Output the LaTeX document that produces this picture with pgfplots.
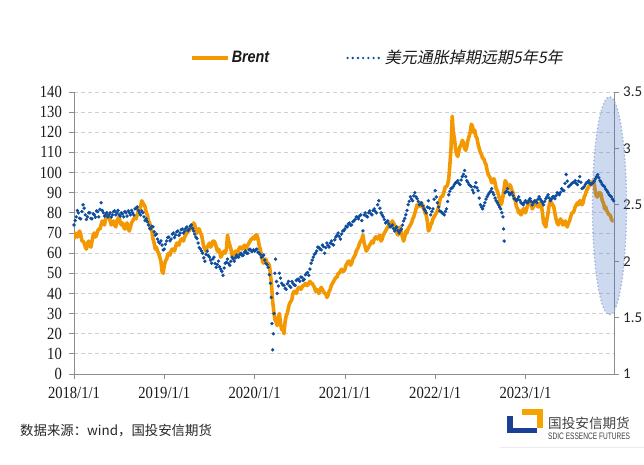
\documentclass[border=0pt]{standalone}
\usepackage{pgfplots}
\pgfplotsset{compat=1.18}
\usepackage{pgfplotstable}
\usepackage{fontspec}
\setmainfont{Liberation Serif}
\newfontfamily\tickfont[FakeStretch=0.86]{Liberation Serif}
\newfontfamily\rtickfont{Carlito}
\newfontfamily\legfont[FakeStretch=0.87]{Liberation Sans}
\newfontfamily\cjkit[FakeSlant=0.2]{Noto Sans CJK SC}
\newfontfamily\cjk{Noto Sans CJK SC}
\newfontfamily\logofont[FakeStretch=0.7]{Liberation Sans}
\definecolor{brentc}{HTML}{F39800}
\definecolor{swapc}{HTML}{0E4D9E}
\definecolor{gridc}{HTML}{D0D0D0}
\definecolor{axisc}{HTML}{8C8C8C}
\definecolor{ellc}{HTML}{4472C4}
\definecolor{ellb}{HTML}{9BB4DB}
\definecolor{logob}{HTML}{1B3F94}
\definecolor{logoo}{HTML}{F5A300}

\pgfplotstableread{
x y
2018.0000 67
2018.0125 70
2018.0250 69
2018.0375 68
2018.0500 70
2018.0625 71
2018.0750 69
2018.0875 66
2018.1000 66
2018.1125 65
2018.1250 63
2018.1375 62
2018.1500 65
2018.1625 66
2018.1750 64
2018.1875 63
2018.2000 66
2018.2125 69
2018.2250 70
2018.2375 68
2018.2500 69
2018.2625 71
2018.2750 72
2018.2875 72
2018.3000 74
2018.3125 76
2018.3250 75
2018.3375 74
2018.3500 77
2018.3625 79
2018.3750 79
2018.3875 78
2018.4000 76
2018.4125 74
2018.4250 75
2018.4375 76
2018.4500 74
2018.4625 73
2018.4750 76
2018.4875 77
2018.5000 78
2018.5125 75
2018.5250 74
2018.5375 75
2018.5500 73
2018.5625 72
2018.5750 74
2018.5875 75
2018.6000 72
2018.6125 71
2018.6250 73
2018.6375 75
2018.6500 76
2018.6625 77
2018.6750 78
2018.6875 77
2018.7000 79
2018.7125 81
2018.7250 82
2018.7375 83
2018.7500 86
2018.7625 85
2018.7750 84
2018.7875 83
2018.8000 80
2018.8125 79
2018.8250 76
2018.8375 75
2018.8500 72
2018.8625 71
2018.8750 67
2018.8875 65
2018.9000 62
2018.9125 63
2018.9250 61
2018.9375 60
2018.9500 58
2018.9625 56
2018.9750 51
2018.9875 50
2019.0000 54
2019.0125 56
2019.0250 57
2019.0375 59
2019.0500 60
2019.0625 59
2019.0750 61
2019.0875 62
2019.1000 62
2019.1125 61
2019.1250 63
2019.1375 65
2019.1500 65
2019.1625 64
2019.1750 66
2019.1875 67
2019.2000 67
2019.2125 66
2019.2250 68
2019.2375 69
2019.2500 70
2019.2625 71
2019.2750 71
2019.2875 72
2019.3000 74
2019.3125 73
2019.3250 75
2019.3375 74
2019.3500 71
2019.3625 70
2019.3750 72
2019.3875 72
2019.4000 70
2019.4125 69
2019.4250 66
2019.4375 63
2019.4500 62
2019.4625 61
2019.4750 63
2019.4875 64
2019.5000 65
2019.5125 63
2019.5250 64
2019.5375 66
2019.5500 66
2019.5625 65
2019.5750 63
2019.5875 61
2019.6000 62
2019.6125 61
2019.6250 58
2019.6375 59
2019.6500 60
2019.6625 61
2019.6750 60
2019.6875 62
2019.7000 69
2019.7125 66
2019.7250 64
2019.7375 62
2019.7500 59
2019.7625 58
2019.7750 60
2019.7875 61
2019.8000 61
2019.8125 60
2019.8250 62
2019.8375 63
2019.8500 63
2019.8625 62
2019.8750 63
2019.8875 64
2019.9000 62
2019.9125 63
2019.9250 64
2019.9375 65
2019.9500 66
2019.9625 67
2019.9750 67
2019.9875 68
2020.0000 67
2020.0125 69
2020.0250 69
2020.0375 67
2020.0500 64
2020.0625 62
2020.0750 59
2020.0875 56
2020.1000 55
2020.1125 57
2020.1250 57
2020.1375 55
2020.1500 55
2020.1625 54
2020.1750 50
2020.1875 44
2020.2000 36
2020.2125 31
2020.2250 27
2020.2375 26
2020.2500 24
2020.2625 28
2020.2750 30
2020.2875 25
2020.3000 22
2020.3125 23
2020.3250 20
2020.3375 26
2020.3500 29
2020.3625 30
2020.3750 33
2020.3875 35
2020.4000 36
2020.4125 37
2020.4250 40
2020.4375 41
2020.4500 41
2020.4625 40
2020.4750 42
2020.4875 43
2020.5000 43
2020.5125 42
2020.5250 43
2020.5375 44
2020.5500 44
2020.5625 45
2020.5750 44
2020.5875 44
2020.6000 45
2020.6125 46
2020.6250 45
2020.6375 45
2020.6500 44
2020.6625 43
2020.6750 41
2020.6875 42
2020.7000 41
2020.7125 40
2020.7250 42
2020.7375 43
2020.7500 42
2020.7625 41
2020.7750 40
2020.7875 40
2020.8000 38
2020.8125 39
2020.8250 41
2020.8375 42
2020.8500 44
2020.8625 45
2020.8750 46
2020.8875 47
2020.9000 48
2020.9125 48
2020.9250 50
2020.9375 50
2020.9500 51
2020.9625 52
2020.9750 51
2020.9875 51
2021.0000 52
2021.0125 54
2021.0250 55
2021.0375 56
2021.0500 56
2021.0625 54
2021.0750 55
2021.0875 57
2021.1000 58
2021.1125 59
2021.1250 61
2021.1375 62
2021.1500 63
2021.1625 65
2021.1750 66
2021.1875 67
2021.2000 69
2021.2125 65
2021.2250 63
2021.2375 61
2021.2500 62
2021.2625 63
2021.2750 64
2021.2875 65
2021.3000 66
2021.3125 65
2021.3250 67
2021.3375 68
2021.3500 68
2021.3625 67
2021.3750 68
2021.3875 69
2021.4000 66
2021.4125 67
2021.4250 69
2021.4375 70
2021.4500 71
2021.4625 72
2021.4750 73
2021.4875 74
2021.5000 75
2021.5125 74
2021.5250 76
2021.5375 75
2021.5500 74
2021.5625 72
2021.5750 70
2021.5875 69
2021.6000 72
2021.6125 73
2021.6250 70
2021.6375 68
2021.6500 66
2021.6625 68
2021.6750 71
2021.6875 70
2021.7000 72
2021.7125 73
2021.7250 74
2021.7375 75
2021.7500 77
2021.7625 78
2021.7750 80
2021.7875 82
2021.8000 84
2021.8125 83
2021.8250 85
2021.8375 85
2021.8500 83
2021.8625 84
2021.8750 82
2021.8875 80
2021.9000 79
2021.9125 76
2021.9250 71
2021.9375 72
2021.9500 74
2021.9625 75
2021.9750 77
2021.9875 78
2022.0000 79
2022.0125 80
2022.0250 81
2022.0375 83
2022.0500 86
2022.0625 88
2022.0750 88
2022.0875 89
2022.1000 91
2022.1125 93
2022.1250 93
2022.1375 94
2022.1500 97
2022.1625 104
2022.1750 112
2022.1880 128
2022.2000 120
2022.2125 117
2022.2250 112
2022.2375 109
2022.2500 108
2022.2625 111
2022.2750 113
2022.2875 114
2022.3000 116
2022.3125 115
2022.3250 112
2022.3375 111
2022.3500 113
2022.3625 116
2022.3750 118
2022.3875 120
2022.4000 124
2022.4125 123
2022.4250 120
2022.4375 121
2022.4500 118
2022.4625 117
2022.4750 114
2022.4875 112
2022.5000 110
2022.5125 109
2022.5250 107
2022.5375 107
2022.5500 105
2022.5625 104
2022.5750 101
2022.5875 99
2022.6000 98
2022.6125 97
2022.6250 95
2022.6375 95
2022.6500 97
2022.6625 95
2022.6750 92
2022.6875 91
2022.7000 89
2022.7125 87
2022.7250 84
2022.7375 85
2022.7500 88
2022.7625 92
2022.7750 96
2022.7875 95
2022.8000 93
2022.8125 92
2022.8250 94
2022.8375 93
2022.8500 91
2022.8625 90
2022.8750 87
2022.8875 86
2022.9000 83
2022.9125 82
2022.9250 80
2022.9375 81
2022.9500 79
2022.9625 80
2022.9750 82
2022.9875 82
2023.0000 80
2023.0125 82
2023.0250 84
2023.0375 84
2023.0500 86
2023.0625 85
2023.0750 82
2023.0875 83
2023.1000 85
2023.1125 86
2023.1250 84
2023.1375 83
2023.1500 83
2023.1625 85
2023.1750 84
2023.1875 80
2023.2000 75
2023.2125 74
2023.2250 73
2023.2375 77
2023.2500 80
2023.2625 84
2023.2750 86
2023.2875 85
2023.3000 84
2023.3125 83
2023.3250 80
2023.3375 77
2023.3500 75
2023.3625 74
2023.3750 76
2023.3875 77
2023.4000 76
2023.4125 74
2023.4250 75
2023.4375 76
2023.4500 74
2023.4625 73
2023.4750 75
2023.4875 76
2023.5000 78
2023.5125 80
2023.5250 80
2023.5375 81
2023.5500 83
2023.5625 84
2023.5750 85
2023.5875 84
2023.6000 86
2023.6125 86
2023.6250 84
2023.6375 85
2023.6500 88
2023.6625 89
2023.6750 91
2023.6875 92
2023.7000 93
2023.7125 94
2023.7250 95
2023.7375 94
2023.7500 96
2023.7625 94
2023.7750 90
2023.7875 88
2023.8000 88
2023.8125 90
2023.8250 90
2023.8375 89
2023.8500 86
2023.8625 85
2023.8750 82
2023.8875 83
2023.9000 81
2023.9125 80
2023.9250 79
2023.9375 79
2023.9500 77
2023.9625 76
2023.9750 76
}\brent

\pgfplotstableread{
x y
2018.000 2.321
2018.025 2.393
2018.050 2.429
2018.075 2.375
2018.100 2.500
2018.125 2.411
2018.150 2.393
2018.175 2.429
2018.200 2.375
2018.225 2.411
2018.250 2.446
2018.275 2.393
2018.300 2.518
2018.325 2.429
2018.350 2.411
2018.375 2.393
2018.400 2.429
2018.425 2.411
2018.450 2.446
2018.475 2.429
2018.500 2.411
2018.525 2.429
2018.550 2.393
2018.575 2.429
2018.600 2.446
2018.625 2.411
2018.650 2.429
2018.675 2.464
2018.700 2.482
2018.725 2.429
2018.750 2.446
2018.775 2.393
2018.800 2.375
2018.825 2.321
2018.850 2.286
2018.875 2.304
2018.900 2.232
2018.925 2.196
2018.950 2.161
2018.975 2.143
2019.000 2.107
2019.025 2.179
2019.050 2.214
2019.075 2.196
2019.100 2.250
2019.125 2.232
2019.150 2.268
2019.175 2.250
2019.200 2.286
2019.225 2.268
2019.250 2.304
2019.275 2.286
2019.300 2.321
2019.325 2.268
2019.350 2.214
2019.375 2.161
2019.400 2.107
2019.425 2.071
2019.450 2.000
2019.475 2.089
2019.500 2.036
2019.525 1.982
2019.550 2.036
2019.575 1.946
2019.600 2.000
2019.625 1.929
2019.650 1.875
2019.675 1.982
2019.700 2.018
2019.725 1.964
2019.750 2.036
2019.775 2.000
2019.800 2.054
2019.825 2.036
2019.850 2.071
2019.875 2.054
2019.900 2.089
2019.925 2.071
2019.950 2.107
2019.975 2.089
2020.000 2.089
2020.025 2.107
2020.050 2.071
2020.075 2.036
2020.100 2.054
2020.125 1.982
2020.150 1.946
2020.175 1.804
2020.185 1.679
2020.192 1.446
2020.200 1.214
2020.207 1.357
2020.215 1.536
2020.225 1.893
2020.232 2.018
2020.250 1.714
2020.275 1.893
2020.300 1.804
2020.325 1.786
2020.350 1.750
2020.375 1.821
2020.400 1.768
2020.425 1.804
2020.450 1.786
2020.475 1.839
2020.500 1.821
2020.525 1.857
2020.550 1.839
2020.575 1.893
2020.600 1.875
2020.625 1.982
2020.650 2.036
2020.675 2.071
2020.700 2.125
2020.725 2.107
2020.750 2.143
2020.775 2.071
2020.800 2.161
2020.825 2.125
2020.850 2.179
2020.875 2.143
2020.900 2.214
2020.925 2.250
2020.950 2.196
2020.975 2.268
2021.000 2.286
2021.025 2.304
2021.050 2.339
2021.075 2.321
2021.100 2.357
2021.125 2.393
2021.150 2.375
2021.175 2.411
2021.200 2.268
2021.225 2.429
2021.250 2.393
2021.275 2.446
2021.300 2.411
2021.325 2.464
2021.350 2.429
2021.375 2.536
2021.400 2.429
2021.425 2.393
2021.450 2.339
2021.475 2.357
2021.500 2.304
2021.525 2.321
2021.550 2.268
2021.575 2.304
2021.600 2.250
2021.625 2.286
2021.650 2.357
2021.675 2.411
2021.700 2.500
2021.725 2.571
2021.750 2.536
2021.775 2.607
2021.800 2.554
2021.825 2.500
2021.850 2.518
2021.875 2.464
2021.900 2.429
2021.925 2.536
2021.950 2.411
2021.975 2.464
2022.000 2.625
2022.025 2.518
2022.050 2.446
2022.075 2.429
2022.100 2.411
2022.125 2.464
2022.150 2.589
2022.175 2.643
2022.200 2.661
2022.225 2.696
2022.250 2.714
2022.275 2.679
2022.300 2.750
2022.325 2.804
2022.350 2.714
2022.375 2.679
2022.400 2.661
2022.425 2.607
2022.450 2.696
2022.475 2.625
2022.500 2.500
2022.525 2.464
2022.550 2.518
2022.575 2.571
2022.600 2.607
2022.625 2.643
2022.650 2.589
2022.675 2.536
2022.700 2.500
2022.725 2.464
2022.750 2.393
2022.757 2.286
2022.764 2.179
2022.775 2.607
2022.800 2.643
2022.825 2.589
2022.850 2.607
2022.875 2.554
2022.900 2.536
2022.925 2.571
2022.950 2.518
2022.975 2.500
2023.000 2.536
2023.025 2.518
2023.050 2.554
2023.075 2.500
2023.100 2.536
2023.125 2.518
2023.150 2.571
2023.175 2.536
2023.200 2.500
2023.225 2.554
2023.250 2.589
2023.275 2.536
2023.300 2.571
2023.325 2.554
2023.350 2.607
2023.375 2.589
2023.400 2.643
2023.425 2.625
2023.450 2.768
2023.475 2.661
2023.500 2.679
2023.525 2.696
2023.550 2.714
2023.575 2.679
2023.600 2.750
2023.625 2.643
2023.650 2.661
2023.675 2.696
2023.700 2.714
2023.725 2.679
2023.750 2.696
2023.775 2.732
2023.800 2.768
2023.825 2.714
2023.850 2.679
2023.875 2.661
2023.900 2.625
2023.925 2.589
2023.950 2.571
2023.975 2.536
}\swap

\pgfplotstableread{
x y
2018.0125 2.36
2018.0375 2.45
2018.0625 2.38
2018.0875 2.44
2018.1125 2.47
2018.1375 2.37
2018.1625 2.43
2018.1875 2.38
2018.2125 2.42
2018.2375 2.39
2018.2625 2.44
2018.2875 2.46
2018.3125 2.45
2018.3375 2.40
2018.3625 2.43
2018.3875 2.41
2018.4125 2.39
2018.4375 2.44
2018.4625 2.41
2018.4875 2.45
2018.5125 2.40
2018.5375 2.42
2018.5625 2.44
2018.5875 2.40
2018.6125 2.43
2018.6375 2.45
2018.6625 2.41
2018.6875 2.47
2018.7125 2.45
2018.7375 2.41
2018.7625 2.43
2018.7875 2.36
2018.8125 2.35
2018.8375 2.29
2018.8625 2.31
2018.8875 2.26
2018.9125 2.24
2018.9375 2.17
2018.9625 2.18
2018.9875 2.10
2019.0125 2.15
2019.0375 2.21
2019.0625 2.18
2019.0875 2.24
2019.1125 2.21
2019.1375 2.26
2019.1625 2.23
2019.1875 2.28
2019.2125 2.25
2019.2375 2.29
2019.2625 2.27
2019.2875 2.31
2019.3125 2.29
2019.3375 2.24
2019.3625 2.20
2019.3875 2.12
2019.4125 2.09
2019.4375 2.03
2019.4625 2.06
2019.4875 2.05
2019.5125 2.01
2019.5375 2.02
2019.5625 1.98
2019.5875 1.97
2019.6125 1.95
2019.6375 1.91
2019.6625 1.94
2019.6875 1.99
2019.7125 1.98
2019.7375 2.00
2019.7625 2.02
2019.7875 2.03
2019.8125 2.04
2019.8375 2.06
2019.8625 2.05
2019.8875 2.08
2019.9125 2.07
2019.9375 2.10
2019.9625 2.09
2019.9875 2.10
2020.0125 2.10
2020.0375 2.08
2020.0625 2.06
2020.0875 2.04
2020.1125 2.01
2020.1375 1.97
2020.1625 1.88
2020.2425 1.82
2020.2625 1.78
2020.2875 1.85
2020.3125 1.79
2020.3375 1.76
2020.3625 1.80
2020.3875 1.78
2020.4125 1.82
2020.4375 1.79
2020.4625 1.83
2020.4875 1.84
2020.5125 1.86
2020.5375 1.83
2020.5625 1.88
2020.5875 1.90
2020.6125 1.93
2020.6375 2.01
2020.6625 2.06
2020.6875 2.09
2020.7125 2.12
2020.7375 2.10
2020.7625 2.13
2020.7875 2.12
2020.8125 2.14
2020.8375 2.16
2020.8625 2.15
2020.8875 2.19
2020.9125 2.23
2020.9375 2.22
2020.9625 2.24
2020.9875 2.27
2021.0125 2.31
2021.0375 2.33
2021.0625 2.32
2021.0875 2.35
2021.1125 2.37
2021.1375 2.39
2021.1625 2.40
2021.1875 2.36
2021.2125 2.41
2021.2375 2.40
2021.2625 2.43
2021.2875 2.42
2021.3125 2.45
2021.3375 2.44
2021.3625 2.50
2021.3875 2.47
2021.4125 2.41
2021.4375 2.37
2021.4625 2.35
2021.4875 2.33
2021.5125 2.31
2021.5375 2.29
2021.5625 2.29
2021.5875 2.27
2021.6125 2.27
2021.6375 2.32
2021.6625 2.38
2021.6875 2.45
2021.7125 2.53
2021.7375 2.55
2021.7625 2.58
2021.7875 2.57
2021.8125 2.53
2021.8375 2.51
2021.8625 2.49
2021.8875 2.45
2021.9125 2.48
2021.9375 2.47
2021.9625 2.44
2021.9875 2.55
2022.0125 2.57
2022.0375 2.48
2022.0625 2.44
2022.0875 2.42
2022.1125 2.44
2022.1375 2.53
2022.1625 2.62
2022.1875 2.65
2022.2125 2.68
2022.2375 2.70
2022.2625 2.69
2022.2875 2.72
2022.3125 2.77
2022.3375 2.75
2022.3625 2.70
2022.3875 2.67
2022.4125 2.63
2022.4375 2.66
2022.4625 2.65
2022.4875 2.56
2022.5125 2.48
2022.5375 2.49
2022.5625 2.55
2022.5875 2.59
2022.6125 2.62
2022.6375 2.61
2022.6625 2.56
2022.6875 2.52
2022.7125 2.48
2022.7375 2.43
2022.7875 2.62
2022.8125 2.61
2022.8375 2.60
2022.8625 2.58
2022.8875 2.55
2022.9125 2.55
2022.9375 2.54
2022.9625 2.51
2022.9875 2.52
2023.0125 2.52
2023.0375 2.54
2023.0625 2.53
2023.0875 2.52
2023.1125 2.53
2023.1375 2.55
2023.1625 2.55
2023.1875 2.52
2023.2125 2.53
2023.2375 2.57
2023.2625 2.56
2023.2875 2.55
2023.3125 2.57
2023.3375 2.58
2023.3625 2.60
2023.3875 2.61
2023.4125 2.63
2023.4375 2.69
2023.4625 2.71
2023.4875 2.67
2023.5125 2.69
2023.5375 2.70
2023.5625 2.69
2023.5875 2.71
2023.6125 2.70
2023.6375 2.65
2023.6625 2.68
2023.6875 2.70
2023.7125 2.69
2023.7375 2.69
2023.7625 2.71
2023.7875 2.75
2023.8125 2.74
2023.8375 2.70
2023.8625 2.67
2023.8875 2.64
2023.9125 2.61
2023.9375 2.58
2023.9625 2.55
}\swapb

\begin{document}
\begin{tikzpicture}
\useasboundingbox (0pt,0pt) rectangle (644pt,464pt);
\begin{axis}[
  at={(74pt,90pt)}, anchor=south west,
  scale only axis, width=540pt, height=282pt,
  xmin=2018, xmax=2023.98, ymin=0, ymax=140,
  axis x line*=bottom, axis y line*=left,
  xtick={2018,2019,2020,2021,2022,2023},
  xticklabels={2018/1/1,2019/1/1,2020/1/1,2021/1/1,2022/1/1,2023/1/1},
  ytick={0,10,20,30,40,50,60,70,80,90,100,110,120,130,140},
  ymajorgrids,
  grid style={gridc, line width=0.8pt, dash pattern=on 4pt off 3pt},
  tick align=outside, major tick length=5pt,
  tick style={axisc, line width=0.8pt},
  axis line style={axisc, line width=1pt},
  /pgf/number format/assume math mode=true,
  tick label style={font=\tickfont\fontsize{17}{17}\selectfont, text=black!90, inner sep=0pt},
  xticklabel style={yshift=-8pt},
  yticklabel style={xshift=-7pt},
]
\addplot[brentc, line width=3.6pt, line join=round] table[x=x, y=y] {\brent};
\end{axis}
\begin{axis}[
  at={(74pt,90pt)}, anchor=south west,
  scale only axis, width=540pt, height=282pt,
  xmin=2018, xmax=2023.98, ymin=1, ymax=3.5,
  axis x line=none, axis y line*=right,
  ytick={1,1.5,2,2.5,3,3.5},
  tick align=outside, major tick length=5pt,
  tick style={axisc, line width=0.8pt},
  axis line style={axisc, line width=1pt},
  /pgf/number format/assume math mode=true,
  tick label style={font=\rtickfont\fontsize{15}{15}\selectfont, text=black!85, inner sep=0pt},
  yticklabel style={xshift=4pt},
  clip=false,
  legend columns=2,
  legend style={at={(0.2148,1.1206)}, anchor=west, draw=none, fill=none, inner sep=0pt,
    font=\fontsize{16}{16}\selectfont, text=black!90,
    /tikz/every even column/.append style={column sep=75pt}},
]
\addlegendimage{legend image code/.code={\draw[brentc, line width=3.6pt] (0pt,0pt) -- (36pt,0pt);}}
\addlegendentry{\legfont\bfseries\itshape\fontsize{16.5}{16.5}\selectfont Brent}
\addplot[only marks, mark=*, mark size=1.5pt, swapc, mark options={draw=none, fill=swapc},
  legend image code/.code={\draw[swapc, line width=2.6pt, line cap=round, dash pattern=on 0pt off 5.2pt] (1pt,0pt) -- (35pt,0pt);}]
  table[x=x, y=y] {\swap};
\addlegendentry{\cjkit\fontsize{16}{16}\selectfont 美元通胀掉期远期5年5年}
\addplot[only marks, mark=*, mark size=1.5pt, swapc, mark options={draw=none, fill=swapc}, forget plot]
  table[x=x, y=y] {\swapb};
\fill[ellc, opacity=0.27] (axis cs:2023.93,2.491) ellipse [x radius=17pt, y radius=109pt];
\draw[ellb, line width=1.8pt, line cap=round, dash pattern=on 0pt off 3.6pt] (axis cs:2023.93,2.491) ellipse [x radius=17pt, y radius=109pt];
\end{axis}
\node[anchor=west, inner sep=0pt, text=black!85] at (20pt,33pt) {\cjk\fontsize{13.4}{13.4}\selectfont 数据来源：wind，国投安信期货};
\fill[logob] (506.7pt,30.7pt) rectangle (512.7pt,48.3pt);
\fill[logob] (506.7pt,30.7pt) rectangle (536.7pt,36.3pt);
\fill[logoo] (521.7pt,49pt) rectangle (542.7pt,55pt);
\fill[logoo] (536.7pt,36.3pt) rectangle (542.7pt,55pt);
\node[anchor=west, inner sep=0pt, text=black!75] at (548pt,41pt) {\cjk\fontsize{13.6}{13.6}\selectfont 国投安信期货};
\node[anchor=west, inner sep=0pt, text=black!75] at (548pt,27.5pt) {\logofont\fontsize{9.4}{9.4}\selectfont SDIC ESSENCE FUTURES};
\draw[black!8, line width=0.8pt] (500pt,17pt) -- (644pt,17pt);
\end{tikzpicture}
\end{document}
